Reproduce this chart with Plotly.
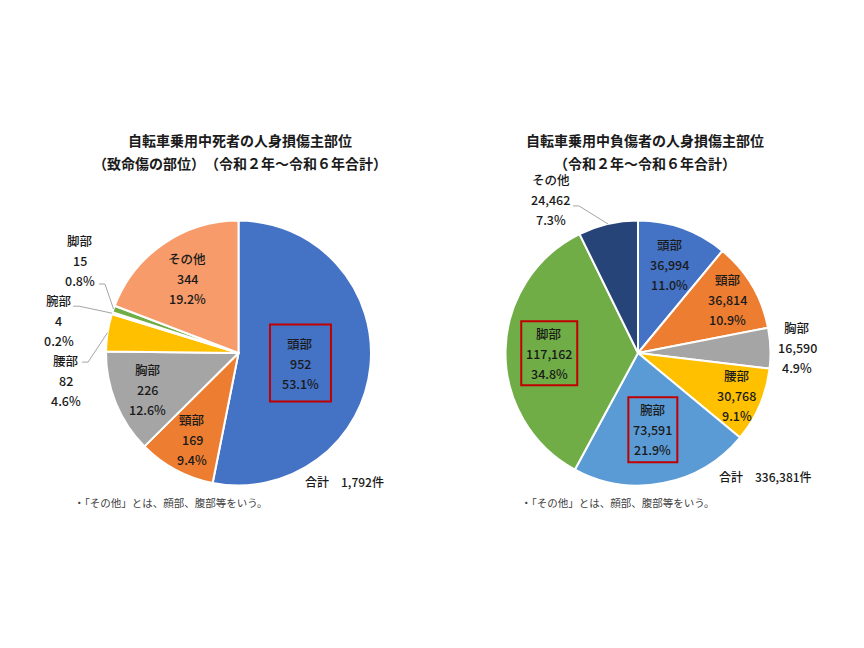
import math
import plotly.graph_objects as go

# data (令和2年～令和6年合計)
parts = ["頭部", "頸部", "胸部", "腰部", "腕部", "脚部", "その他"]
deaths = [952, 169, 226, 82, 4, 15, 344]
injuries = [36994, 36814, 16590, 30768, 73591, 117162, 24462]

title_left = ["自転車乗用中死者の人身損傷主部位", "（致命傷の部位）　（令和２年～令和６年合計）"]
title_right = ["自転車乗用中負傷者の人身損傷主部位", "（令和２年～令和６年合計）"]
note = "・「その他」とは、顔部、腹部等をいう。"

colors_left = ["#4472C4", "#ED7D31", "#A5A5A5", "#FFC000", "#5B9BD5", "#70AD47", "#F79B6A"]
colors_right = ["#4472C4", "#ED7D31", "#A5A5A5", "#FFC000", "#5B9BD5", "#70AD47", "#264478"]

W, H = 864, 648
OFF = 8  # page body margin
FONT = "Noto Sans CJK JP"
TXT = "#1A1A1A"
R = 132.5


def px(x):
    return (x - OFF) / W


def py(y):
    return 1 - (y - OFF) / H


# label placement (styling): inside -> radius fraction, outside -> pixel offset from rim
style_left = {
    "頭部": {"r": 0.47, "box": (61, 77), "shift": (0, 4)},
    "頸部": {"r": 0.74},
    "胸部": {"r": 0.74},
    "腰部": {"off": (-41.5, 47.5), "lead": (16, -18)},
    "腕部": {"off": (-53.5, 7), "lead": (14.5, -14)},
    "脚部": {"off": (-33.5, -49), "lead": (19, 24)},
    "その他": {"r": 0.68},
}
style_right = {
    "頭部": {"r": 0.71},
    "頸部": {"r": 0.79},
    "胸部": {"off": (27, -1)},
    "腰部": {"r": 0.81},
    "腕部": {"r": 0.59, "box": (49, 65)},
    "脚部": {"r": 0.67, "box": (56, 64), "shift": (0, 2)},
    "その他": {"off": (-57, -24), "lead": (22, 6)},
}

fig = go.Figure()
annotations = []
shapes = []


def add_pie(values, colors, cx, cy, style, titles, title_x, total_pos, note_x):
    fig.add_trace(go.Pie(
        labels=parts, values=values, sort=False, direction="clockwise", rotation=0,
        marker=dict(colors=colors, line=dict(color="white", width=2)),
        textinfo="none", hoverinfo="label+value+percent", showlegend=False,
        domain=dict(x=[px(cx - R), px(cx + R)], y=[py(cy + R), py(cy - R)]),
    ))
    total = sum(values)
    cum = 0
    for name, v in zip(parts, values):
        mid = (cum + v / 2) / total * 2 * math.pi
        cum += v
        s = style[name]
        if "r" in s:
            lx = cx + s["r"] * R * math.sin(mid)
            ly = cy - s["r"] * R * math.cos(mid)
            if "shift" in s:
                lx, ly = lx + s["shift"][0], ly + s["shift"][1]
        else:
            rx = cx + R * math.sin(mid)
            ry = cy - R * math.cos(mid)
            lx, ly = rx + s["off"][0], ry + s["off"][1]
            if "lead" in s:
                sx, sy = lx + s["lead"][0], ly + s["lead"][1]
                shapes.append(dict(
                    type="path", xref="paper", yref="paper",
                    path=f"M {px(sx)},{py(sy)} L {px(sx + 6)},{py(sy)} L {px(rx)},{py(ry)}",
                    line=dict(color="#A6A6A6", width=1),
                ))
        lines = [name, f"{v:,}", f"{v / total * 100:.1f}%"]
        for i, t in enumerate(lines):
            annotations.append(dict(
                x=px(lx), y=py(ly + (i - 1) * 20), xref="paper", yref="paper",
                text=t, showarrow=False, xanchor="center", yanchor="middle",
                font=dict(family=FONT, size=12.5, color=TXT, weight=500),
            ))
        if "box" in s:
            bw, bh = s["box"]
            shapes.append(dict(
                type="rect", xref="paper", yref="paper",
                x0=px(lx - bw / 2), x1=px(lx + bw / 2),
                y0=py(ly + bh / 2), y1=py(ly - bh / 2),
                line=dict(color="#C00000", width=2),
            ))
    for i, t in enumerate(titles):
        annotations.append(dict(
            x=px(title_x), y=py(140 + i * 23), xref="paper", yref="paper",
            text=f"<b>{t}</b>", showarrow=False, xanchor="center", yanchor="middle",
            font=dict(family=FONT, size=14, color="#1A1A1A"),
        ))
    annotations.append(dict(
        x=px(total_pos[0]), y=py(total_pos[1]), xref="paper", yref="paper",
        text=f"合計　{total:,}件", showarrow=False, xanchor="center", yanchor="middle",
        font=dict(family=FONT, size=12, color=TXT, weight=500),
    ))
    annotations.append(dict(
        x=px(note_x), y=py(503), xref="paper", yref="paper",
        text=note, showarrow=False, xanchor="left", yanchor="middle",
        font=dict(family=FONT, size=10.5, color="#404040"),
    ))


add_pie(deaths, colors_left, 238.5, 353, style_left, title_left, 240, (344.5, 481), 72)
add_pie(injuries, colors_right, 638, 353, style_right, title_right, 645, (765, 476), 519)

fig.update_layout(
    width=W, height=H,
    margin=dict(l=0, r=0, t=0, b=0),
    paper_bgcolor="white", plot_bgcolor="white",
    annotations=annotations, shapes=shapes,
)

fig.write_html("out.html")
